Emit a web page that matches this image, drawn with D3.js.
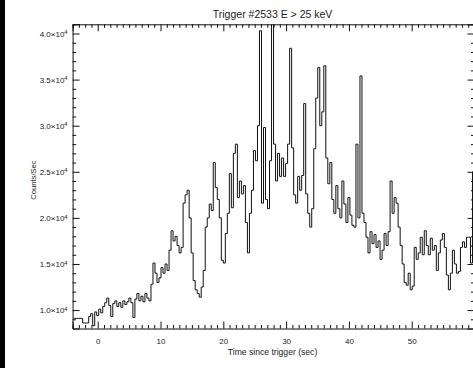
<!DOCTYPE html>
<html>
<head>
<meta charset="utf-8">
<script src="https://cdn.jsdelivr.net/npm/d3@7"></script>
<style>
  html, body { margin: 0; padding: 0; background: #fff; }
  svg { display: block; }
  text { font-family: "Liberation Sans", "DejaVu Sans", Arial, sans-serif; fill: #222; }
</style>
</head>
<body>
<svg id="chart" width="473" height="368"></svg>
<script>
// ---- data ----
const title = "Trigger #2533 E > 25 keV";
const xLabel = "Time since trigger (sec)";
const yLabel = "Counts/Sec";
const binStart = -4.0;     // seconds
const binWidth = 0.32;     // seconds
const counts = [
  9100, 9100, 9100, 9100, 9100, 8600, 8600, 8600, 9300, 9600,
  8300, 9800, 9400, 10100, 9700, 10400, 10800, 11300, 10500, 9300,
  10700, 11000, 10400, 10800, 10300, 11000, 10600, 10900, 11300, 10800,
  9200, 11200, 11800, 11000, 11500, 10900, 11800, 11300, 11000, 12800,
  15100, 14000, 13000, 13500, 14600, 14000, 15000, 14300, 16500, 18600,
  17500, 18000, 17000, 16200, 16800, 21600, 22500, 23000, 20000, 16200,
  13200, 12200, 11800, 11400, 12500, 14300, 19000, 20000, 21500, 20800,
  26000, 23300, 22000, 20000, 15400, 15100, 18300, 20500, 24800, 21100,
  27000, 28000, 22200, 24000, 22600, 23500, 19500, 16200, 20500, 23000,
  27300, 26200, 30000, 40300, 21600, 29800, 22000, 21000, 26200, 42500,
  28000, 24000, 27000, 24500, 26500, 24500, 25900, 28000, 38400, 27600,
  22500, 21600, 24500, 23000, 24600, 32400, 22600, 20500, 19000, 21000,
  27500, 33000, 36300, 30000, 31500, 36500, 26500, 23700, 26000, 22000,
  20500, 23500, 21000, 20000, 24000, 21500, 19500, 22200, 20300, 19200,
  19000, 28000, 20000, 35400, 20500, 19500, 17900, 16200, 18500, 17200,
  18200, 16800, 17500, 15500, 16500, 18300, 17000, 18500, 24000, 20500,
  22200, 21600, 19000, 17000, 15000, 13000, 12700, 14000, 12200, 12600,
  16800, 15500, 16200, 17900, 16000, 18600, 17000, 16000, 17800, 16500,
  17000, 14300, 16200, 17600, 18300, 16800, 13800, 12200, 14000, 16500,
  15000, 14000, 14200, 16800, 17400, 16800, 17900, 17900, 15100, 25000
];
const xDomain = [-4, 60];
const yDomain = [8000, 41000];
const xMajorTicks = [0, 10, 20, 30, 40, 50, 60];
const xTickLabels = [0, 10, 20, 30, 40, 50];
const yMajorTicks = [10000, 15000, 20000, 25000, 30000, 35000, 40000];
const yTickMantissa = ["1.0", "1.5", "2.0", "2.5", "3.0", "3.5", "4.0"];
const yTickExponent = "4";

// ---- layout ----
const svg = d3.select("#chart");
const W = 473, H = 368;
const mLeft = 72.6, mRight = 474.5, mTop = 24.3, mBottom = 328.5;

const x = d3.scaleLinear().domain(xDomain).range([mLeft, mRight]);
const y = d3.scaleLinear().domain(yDomain).range([mBottom, mTop]);

// black strip on the left edge
svg.append("rect").attr("x", 0).attr("y", 0).attr("width", 5).attr("height", H).attr("fill", "#000");

const data = counts.map((c, i) => ({ t: binStart + binWidth * i + binWidth / 2, v: c }));

// clip
svg.append("defs").append("clipPath").attr("id", "clip")
  .append("rect").attr("x", mLeft).attr("y", mTop).attr("width", mRight - mLeft).attr("height", mBottom - mTop);

// line
const line = d3.line().x(d => x(d.t)).y(d => y(d.v)).curve(d3.curveStep);
svg.append("path").datum(data)
  .attr("clip-path", "url(#clip)")
  .attr("fill", "none").attr("stroke", "#111").attr("stroke-width", 1)
  .attr("d", line);

// minor tick values
const xMinor = d3.range(xDomain[0], xDomain[1] + 0.001, 1).filter(v => v % 10 !== 0);
const yMinor = d3.range(9000, yDomain[1] + 1, 1000).filter(v => v % 5000 !== 0);

function styleAxis(g) {
  g.select(".domain").attr("stroke", "#111").attr("stroke-width", 1);
  g.selectAll(".tick line").attr("stroke", "#111").attr("stroke-width", 1);
}

// bottom axis
svg.append("g").attr("transform", `translate(0,${mBottom})`)
  .call(d3.axisBottom(x).tickValues(xTickLabels).tickSize(-7).tickPadding(10)
    .tickFormat(d3.format("d")))
  .call(styleAxis)
  .call(g => g.selectAll("text").attr("font-size", 8).attr("fill", "#333")
    .style("font-family", "'Liberation Sans', Arial, sans-serif"));
svg.append("g").attr("transform", `translate(0,${mBottom})`)
  .call(d3.axisBottom(x).tickValues(xMinor).tickSize(-3.5).tickFormat(""))
  .call(styleAxis).call(g => g.select(".domain").remove());

// top axis
svg.append("g").attr("transform", `translate(0,${mTop})`)
  .call(d3.axisTop(x).tickValues(xMajorTicks).tickSize(-7).tickFormat(""))
  .call(styleAxis);
svg.append("g").attr("transform", `translate(0,${mTop})`)
  .call(d3.axisTop(x).tickValues(xMinor).tickSize(-3.5).tickFormat(""))
  .call(styleAxis).call(g => g.select(".domain").remove());

// left axis
const leftAxis = svg.append("g").attr("transform", `translate(${mLeft},0)`)
  .call(d3.axisLeft(y).tickValues(yMajorTicks).tickSize(-7).tickPadding(5).tickFormat(""))
  .call(styleAxis);
leftAxis.selectAll(".tick text").remove();
leftAxis.selectAll(".tick").append("text")
  .attr("x", -5).attr("dy", "0.35em").attr("text-anchor", "end")
  .attr("font-size", 8).attr("fill", "#333")
  .each(function(d, i) {
    const t = d3.select(this);
    t.append("tspan").text(yTickMantissa[i] + "\u00d710");
    t.append("tspan").attr("dy", "-0.45em").attr("font-size", 5.8).text(yTickExponent);
  });
svg.append("g").attr("transform", `translate(${mLeft},0)`)
  .call(d3.axisLeft(y).tickValues(yMinor).tickSize(-3.5).tickFormat(""))
  .call(styleAxis).call(g => g.select(".domain").remove());

// right axis
svg.append("g").attr("transform", `translate(${mRight},0)`)
  .call(d3.axisRight(y).tickValues(yMajorTicks).tickSize(-7).tickFormat(""))
  .call(styleAxis);
svg.append("g").attr("transform", `translate(${mRight},0)`)
  .call(d3.axisRight(y).tickValues(yMinor).tickSize(-3.5).tickFormat(""))
  .call(styleAxis).call(g => g.select(".domain").remove());

// title
svg.append("text").attr("x", (mLeft + mRight) / 2 - 1).attr("y", 18)
  .attr("text-anchor", "middle").attr("font-size", 10.5).attr("fill", "#222").text(title);

// x label
svg.append("text").attr("x", (mLeft + mRight) / 2 - 1).attr("y", 355)
  .attr("text-anchor", "middle").attr("font-size", 8.6).attr("fill", "#222").text(xLabel);

// y label
svg.append("text").attr("transform", `translate(36,180) rotate(-90)`)
  .attr("text-anchor", "middle").attr("font-size", 7.6).attr("fill", "#222").text(yLabel);
</script>
</body>
</html>
